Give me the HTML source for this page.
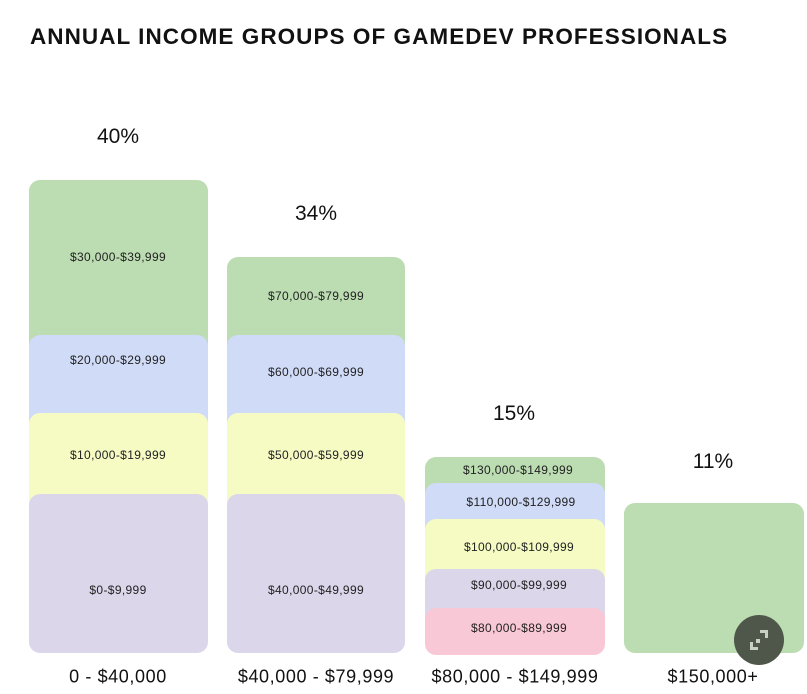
<!DOCTYPE html>
<html><head><style>
body{margin:0;width:807px;height:694px;background:#fff;font-family:"Liberation Sans",sans-serif;position:relative;overflow:hidden;color:#111}
.t{position:absolute;left:30px;top:24px;font-size:22.5px;font-weight:bold;letter-spacing:1.05px;color:#111}
.s{position:absolute;border-radius:11px;}
.l{position:absolute;font-size:12px;letter-spacing:0.35px;text-align:center;transform:translate(-50%,-50%);white-space:nowrap;color:#222}
.p{position:absolute;font-size:21px;transform:translate(-50%,-50%);color:#111}
.b{position:absolute;font-size:18px;letter-spacing:0.6px;transform:translate(-50%,-50%);white-space:nowrap;color:#111}
.g{background:#bcdcb2}.bl{background:#d0dbf7}.y{background:#f6fbc4}.pu{background:#dbd6ea}.pk{background:#f8c8d6}
</style></head><body>
<div class="t">ANNUAL INCOME GROUPS OF GAMEDEV PROFESSIONALS</div>

<div class="s g" style="left:29px;top:180px;width:179px;height:180px"></div>
<div class="s bl" style="left:29px;top:335px;width:179px;height:100px"></div>
<div class="s y" style="left:29px;top:413px;width:179px;height:100px"></div>
<div class="s pu" style="left:29px;top:494px;width:179px;height:159px"></div>

<div class="s g" style="left:227px;top:257px;width:178px;height:100px"></div>
<div class="s bl" style="left:227px;top:335px;width:178px;height:100px"></div>
<div class="s y" style="left:227px;top:413px;width:178px;height:100px"></div>
<div class="s pu" style="left:227px;top:494px;width:178px;height:159px"></div>

<div class="s g" style="left:425px;top:457px;width:180px;height:50px"></div>
<div class="s bl" style="left:425px;top:483px;width:180px;height:60px"></div>
<div class="s y" style="left:425px;top:519px;width:180px;height:70px"></div>
<div class="s pu" style="left:425px;top:569px;width:180px;height:60px"></div>
<div class="s pk" style="left:425px;top:608px;width:180px;height:47px"></div>

<div class="s g" style="left:624px;top:503px;width:180px;height:150px"></div>

<div class="l" style="left:118px;top:257px">$30,000-$39,999</div>
<div class="l" style="left:118px;top:360px">$20,000-$29,999</div>
<div class="l" style="left:118px;top:455px">$10,000-$19,999</div>
<div class="l" style="left:118px;top:590px">$0-$9,999</div>
<div class="l" style="left:316px;top:296px">$70,000-$79,999</div>
<div class="l" style="left:316px;top:372px">$60,000-$69,999</div>
<div class="l" style="left:316px;top:455px">$50,000-$59,999</div>
<div class="l" style="left:316px;top:590px">$40,000-$49,999</div>
<div class="l" style="left:518px;top:470px">$130,000-$149,999</div>
<div class="l" style="left:521px;top:502px">$110,000-$129,999</div>
<div class="l" style="left:519px;top:547px">$100,000-$109,999</div>
<div class="l" style="left:519px;top:585px">$90,000-$99,999</div>
<div class="l" style="left:519px;top:628px">$80,000-$89,999</div>

<div class="p" style="left:118px;top:137px">40%</div>
<div class="p" style="left:316px;top:214px">34%</div>
<div class="p" style="left:514px;top:414px">15%</div>
<div class="p" style="left:713px;top:462px">11%</div>

<div class="b" style="left:118px;top:677px">0 - $40,000</div>
<div class="b" style="left:316px;top:677px">$40,000 - $79,999</div>
<div class="b" style="left:515px;top:677px">$80,000 - $149,999</div>
<div class="b" style="left:713px;top:677px">$150,000+</div>

<div style="position:absolute;left:734px;top:615px;width:50px;height:50px;border-radius:50%;background:#4e5749"></div>
<svg style="position:absolute;left:734px;top:615px" width="50" height="50"><g fill="#c9cfc4"><rect x="16" y="27" width="3" height="8"/><rect x="16" y="32" width="8" height="3"/><rect x="31" y="15" width="3" height="8"/><rect x="26" y="15" width="8" height="3"/><rect x="22" y="24" width="4" height="4"/></g></svg>
</body></html>
